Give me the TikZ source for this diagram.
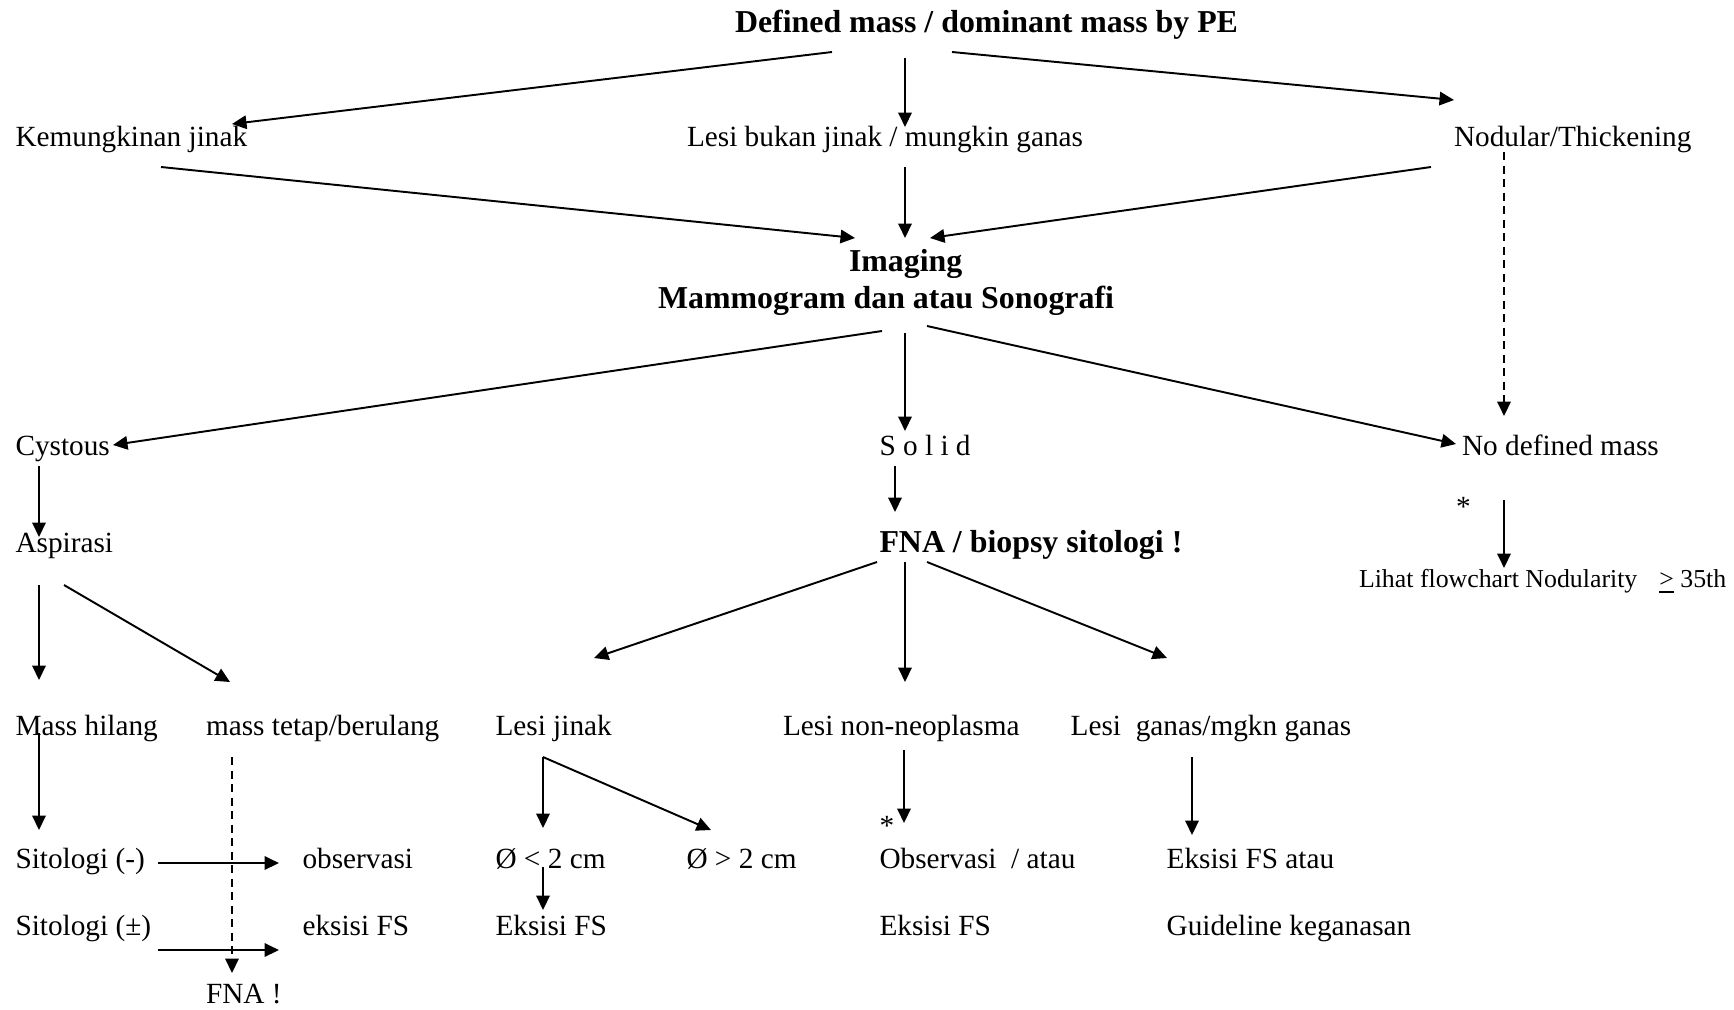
\documentclass[tikz,border=0pt]{standalone}
\usepackage{fontspec}
\setmainfont{Liberation Serif}
\usetikzlibrary{arrows.meta}
\newcommand{\fsn}{\fontsize{8.33}{10}\selectfont}
\newcommand{\fsb}{\fontsize{9.07}{11}\selectfont\bfseries}
\newcommand{\fss}{\fontsize{7.35}{9}\selectfont}
\tikzset{
  lbl/.style={anchor=base west, inner sep=0pt, outer sep=0pt, font=\fsn},
  blbl/.style={lbl, font=\fsb},
  slbl/.style={lbl, font=\fss},
  arr/.style={line width=0.55pt, -{Triangle[length=1.45mm,width=1.35mm]}},
  darr/.style={arr, dash pattern=on 0.8mm off 0.55mm},
}
\begin{document}
\begin{tikzpicture}[x=0.1mm,y=-0.1mm]
\useasboundingbox (0,0) rectangle (1734,1009);
% texts
\node[blbl] (top) at (735,32) {Defined mass / dominant mass by PE};
\node[lbl] (kj) at (15.5,146) {Kemungkinan jinak};
\node[lbl] (lb) at (687,146) {Lesi bukan jinak / mungkin ganas};
\node[lbl] (nt) at (1454,146) {Nodular/Thickening};
\node[blbl] (img) at (849,271) {Imaging};
\node[blbl] (mam) at (658,308) {Mammogram dan atau Sonografi};
\node[lbl] (cy) at (15.5,455) {Cystous};
\node[lbl] (so) at (879.5,455) {S o l i d};
\node[lbl] (nd) at (1462,455) {No defined mass};
\node[lbl] (st1) at (1456,516) {*};
\node[lbl] (as) at (15.5,552) {Aspirasi};
\node[blbl] (fna) at (879.5,552) {FNA / biopsy sitologi !};
\node[slbl] (lh) at (1359,587) {Lihat flowchart Nodularity\hspace{2.2mm}\underline{>} 35th};
\node[lbl] (mh) at (15.5,735) {Mass hilang};
\node[lbl] (mt) at (206,735) {mass tetap/berulang};
\node[lbl] (lj) at (495.5,735) {Lesi jinak};
\node[lbl] (ln) at (783,735) {Lesi non-neoplasma};
\node[lbl] (lg) at (1070.7,735) {Lesi\ \ ganas/mgkn ganas};
\node[lbl] (st2) at (879.5,835) {*};
\node[lbl] (s1) at (15.5,868) {Sitologi (-)};
\node[lbl] (ob) at (302.5,868) {observasi};
\node[lbl] (lt) at (495.5,868) {Ø < 2 cm};
\node[lbl] (gt) at (686.5,868) {Ø > 2 cm};
\node[lbl] (oa) at (879.5,868) {Observasi\ \ / atau};
\node[lbl] (ea) at (1166.6,868) {Eksisi FS atau};
\node[lbl] (s2) at (15.5,935) {Sitologi (±)};
\node[lbl] (ef1) at (302.5,935) {eksisi FS};
\node[lbl] (ef2) at (495.5,935) {Eksisi FS};
\node[lbl] (ef3) at (879.5,935) {Eksisi FS};
\node[lbl] (gk) at (1166.6,935) {Guideline keganasan};
\node[lbl] (fn2) at (206,1003) {FNA !};
% connector end points
\coordinate (a1s) at (832,52);   \coordinate (a1e) at (232,124);
\coordinate (a2s) at (905,58);   \coordinate (a2e) at (905,127);
\coordinate (a3s) at (952,52);   \coordinate (a3e) at (1454,100);
\coordinate (a4s) at (161,167);  \coordinate (a4e) at (855,238);
\coordinate (a5s) at (905,167);  \coordinate (a5e) at (905,238);
\coordinate (a6s) at (1431,167); \coordinate (a6e) at (930,238);
\coordinate (a7s) at (1504,152); \coordinate (a7e) at (1504,416);
\coordinate (a8s) at (882,331);  \coordinate (a8e) at (113,445);
\coordinate (a9s) at (905,333);  \coordinate (a9e) at (905,431);
\coordinate (a10s) at (927,326); \coordinate (a10e) at (1456,444);
\coordinate (a11s) at (39,466);  \coordinate (a11e) at (39,537);
\coordinate (a12s) at (895,466); \coordinate (a12e) at (895,512);
\coordinate (a13s) at (1504,500);\coordinate (a13e) at (1504,568);
\coordinate (a14s) at (39,585);  \coordinate (a14e) at (39,680);
\coordinate (a15s) at (64,585);  \coordinate (a15e) at (230,682);
\coordinate (a16s) at (877,562); \coordinate (a16e) at (594,658);
\coordinate (a17s) at (905,562); \coordinate (a17e) at (905,682);
\coordinate (a18s) at (927,562); \coordinate (a18e) at (1167,658);
\coordinate (a19s) at (39,733);  \coordinate (a19e) at (39,830);
\coordinate (a20s) at (232,757); \coordinate (a20e) at (232,973);
\coordinate (a21s) at (158,863); \coordinate (a21e) at (279,863);
\coordinate (a22s) at (158,950); \coordinate (a22e) at (279,950);
\coordinate (a23s) at (543,757); \coordinate (a23e) at (543,828);
\coordinate (a24e) at (711,830);
\coordinate (a25s) at (543,867); \coordinate (a25e) at (543,910);
\coordinate (a26s) at (904,750); \coordinate (a26e) at (904,823);
\coordinate (a27s) at (1192,757);\coordinate (a27e) at (1192,835);
% connectors
\draw[arr] (a1s) -- (a1e);
\draw[arr] (a2s) -- (a2e);
\draw[arr] (a3s) -- (a3e);
\draw[arr] (a4s) -- (a4e);
\draw[arr] (a5s) -- (a5e);
\draw[arr] (a6s) -- (a6e);
\draw[darr] (a7s) -- (a7e);
\draw[arr] (a8s) -- (a8e);
\draw[arr] (a9s) -- (a9e);
\draw[arr] (a10s) -- (a10e);
\draw[arr] (a11s) -- (a11e);
\draw[arr] (a12s) -- (a12e);
\draw[arr] (a13s) -- (a13e);
\draw[arr] (a14s) -- (a14e);
\draw[arr] (a15s) -- (a15e);
\draw[arr] (a16s) -- (a16e);
\draw[arr] (a17s) -- (a17e);
\draw[arr] (a18s) -- (a18e);
\draw[arr] (a19s) -- (a19e);
\draw[darr] (a20s) -- (a20e);
\draw[arr] (a21s) -- (a21e);
\draw[arr] (a22s) -- (a22e);
\draw[arr] (a23s) -- (a23e);
\draw[arr] (a23s) -- (a24e);
\draw[arr] (a25s) -- (a25e);
\draw[arr] (a26s) -- (a26e);
\draw[arr] (a27s) -- (a27e);
\end{tikzpicture}
\end{document}
